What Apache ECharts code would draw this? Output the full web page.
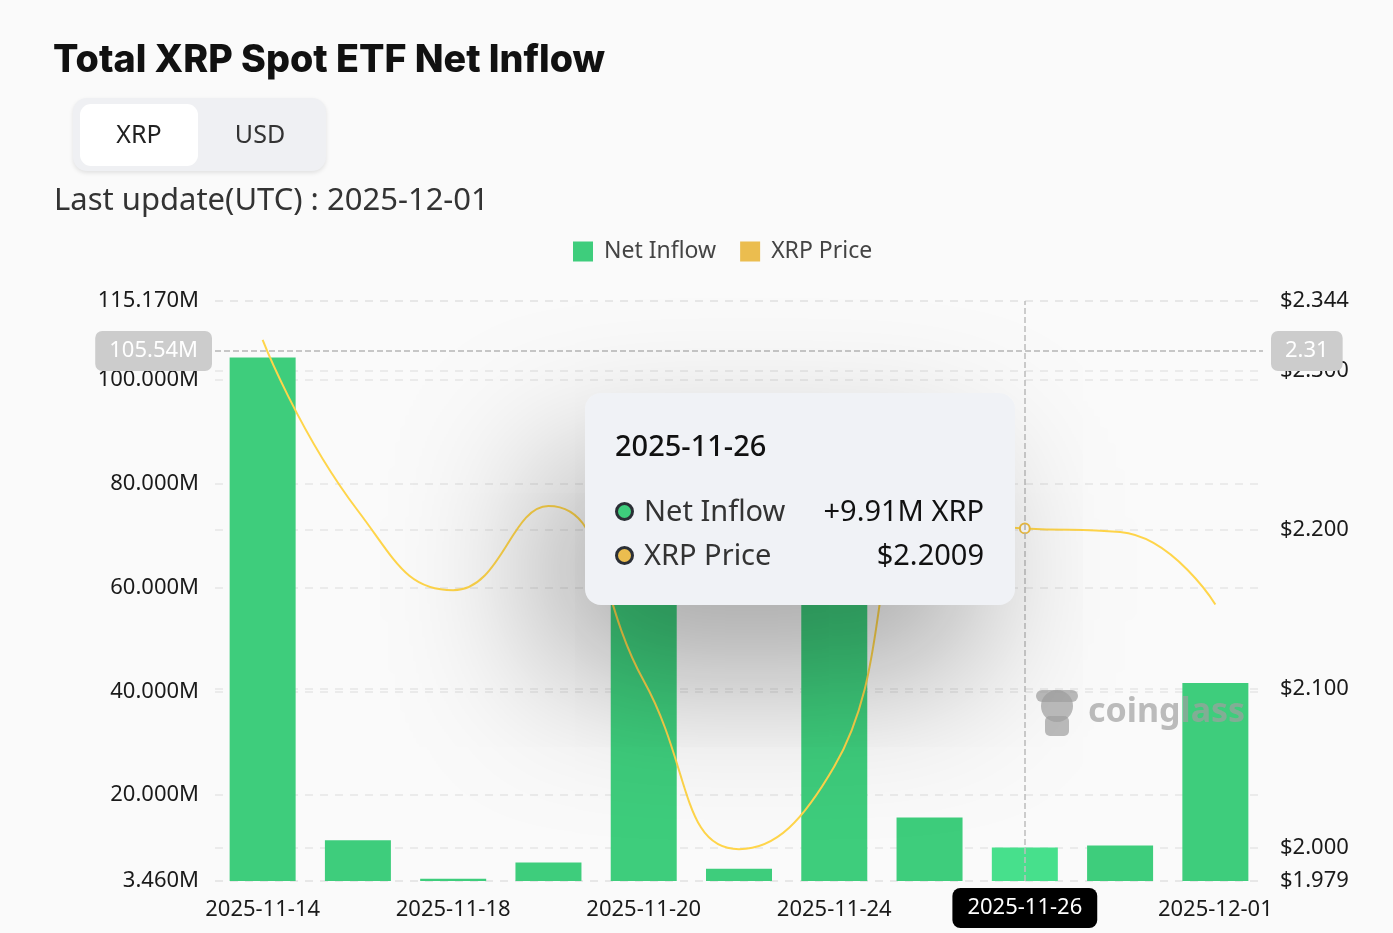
<!DOCTYPE html>
<html>
<head>
<meta charset="utf-8">
<script src="https://cdn.jsdelivr.net/npm/echarts@6/dist/echarts.min.js"></script>
<style>
html,body{margin:0;padding:0;background:#fafafa;}
#chart{width:1393px;height:933px;}
</style>
</head>
<body>
<div id="chart"></div>
<script>
// ---- data ----
const categories = ['2025-11-14','2025-11-17','2025-11-18','2025-11-19','2025-11-20','2025-11-21','2025-11-24','2025-11-25','2025-11-26','2025-11-28','2025-12-01'];
const netInflowM = [104.3, 11.3, 3.9, 7.0, 57.6, 5.8, 80.2, 15.7, 9.91, 10.3, 41.6];
const xrpPrice = [2.3195, 2.212, 2.162, 2.215, 2.105, 1.999, 2.051, 2.205, 2.2009, 2.1986, 2.153];
const leftMin = 3.46, leftMax = 115.17;
const rightMin = 1.979, rightMax = 2.344;
const hoverIndex = 8;

const GREEN = '#3ecd7c', GREEN_HL = '#47e08c', YELLOW = '#f3c244', LEG_YELLOW = '#ebbd4f';
const FONT = 'Noto Sans';

const chart = echarts.init(document.getElementById('chart'), null, {renderer:'canvas'});

const barData = netInflowM.map((v,i)=> i===hoverIndex ? {value:v, itemStyle:{color:GREEN_HL}} : v);

function tipHtml(i){
  const dot = c => `<span style="display:inline-block;width:13px;height:13px;border-radius:50%;border:3.5px solid #2b2f36;background:${c};margin-right:10px;vertical-align:middle;position:relative;top:-2px"></span>`;
  const v = netInflowM[i];
  return `<div style="font-family:${FONT};">
  <div style="font-size:29px;color:#111;font-weight:500;line-height:36px;margin-bottom:25px">${categories[i]}</div>
  <div style="display:flex;justify-content:space-between;font-size:29px;line-height:44px;color:#333"><span>${dot(GREEN)}Net Inflow</span><span style="color:#111">+${v.toFixed(2)}M XRP</span></div>
  <div style="display:flex;justify-content:space-between;font-size:29px;line-height:44px;color:#333"><span>${dot(LEG_YELLOW)}XRP Price</span><span style="color:#111">$${xrpPrice[i].toFixed(4)}</span></div>
  </div>`;
}

const option = {
  animation: false,
  backgroundColor: '#fafafa',
  textStyle: {fontFamily: FONT},
  title: {
    text: 'Total XRP Spot ETF Net Inflow',
    left: 48, top: 37,
    textStyle: {fontFamily: 'Inter', fontSize: 37.7, fontWeight: 800, color: '#111'}
  },
  graphic: [
    {type:'rect', shape:{x:73,y:98,width:253,height:73,r:14}, style:{fill:'#eff0f3', shadowBlur:4, shadowOffsetY:2, shadowColor:'rgba(0,0,0,0.10)'}},
    {type:'rect', shape:{x:80,y:104,width:118,height:62,r:11}, style:{fill:'#ffffff'}},
    {type:'text', x:139, y:136, style:{text:'XRP', fontFamily:FONT, fontSize:25, fill:'#222', align:'center', verticalAlign:'middle'}},
    {type:'text', x:260, y:136, style:{text:'USD', fontFamily:FONT, fontSize:25, fill:'#333', align:'center', verticalAlign:'middle'}},
    {type:'text', x:54, y:201, style:{text:'Last update(UTC) : 2025-12-01', fontFamily:FONT, fontSize:31, fill:'#333', verticalAlign:'middle'}},
    // watermark
    {type:'group', z:100, children:[
      {type:'circle', z:100, shape:{cx:1057,cy:706,r:16}, style:{fill:'rgba(160,160,160,0.7)'}},
      {type:'rect', z:100, shape:{x:1036,y:690,width:42,height:12,r:6}, style:{fill:'rgba(160,160,160,0.7)'}},
      {type:'rect', z:100, shape:{x:1045,y:716,width:24,height:20,r:5}, style:{fill:'rgba(160,160,160,0.7)'}},
      {type:'text', z:100, x:1088, y:712, style:{text:'coinglass', fontFamily:FONT, fontSize:34, fontWeight:700, fill:'rgba(160,160,160,0.7)', verticalAlign:'middle'}}
    ]}
  ],
  legend: {
    left: 568, top: 235,
    itemWidth: 20, itemHeight: 20, itemGap: 24,
    icon: 'rect',
    textStyle: {fontSize: 23, color: '#444', fontFamily: FONT, padding:[0,0,0,6]},
    data: [{name:'Net Inflow', itemStyle:{color:GREEN}}, {name:'XRP Price', itemStyle:{color:LEG_YELLOW}}]
  },
  grid: {left: 215, right: 130, top: 301, bottom: 52, containLabel: false},
  tooltip: {
    trigger: 'axis',
    alwaysShowContent: true,
    triggerOn: 'none',
    position: function(){ return [585, 393]; },
    backgroundColor: '#f0f2f6',
    borderWidth: 0,
    padding: [34, 31, 29, 30],
    extraCssText: 'width:430px;box-sizing:border-box;border-radius:16px;box-shadow:-40px 70px 150px rgba(0,0,0,0.34);',
    formatter: function(params){ return tipHtml(params[0].dataIndex); },
    axisPointer: {
      type: 'cross',
      lineStyle: {type:'dashed', color:'#bdbdbd', width:1.5},
      crossStyle: {type:'dashed', color:'#c4c4c4', width:1.5}
    }
  },
  xAxis: {
    type: 'category',
    data: categories,
    axisLine: {show:false},
    axisTick: {show:false},
    axisLabel: {interval: 1, fontSize: 22, color: '#1a1a1a', margin: 18, fontFamily: FONT},
    axisPointer: {
      label: {backgroundColor:'#000', color:'#fff', fontSize:22, padding:[9,15,9,15], borderRadius:8, margin:7, fontFamily:FONT}
    }
  },
  yAxis: [
    {
      type: 'value', min: leftMin, max: leftMax, splitNumber: 5,
      axisLine:{show:false}, axisTick:{show:false},
      axisLabel: {formatter: v => v.toFixed(3) + 'M', fontSize: 22, color:'#1a1a1a', margin: 16, fontFamily: FONT},
      splitLine: {lineStyle:{type:[8,7], color:'#e6e6e6', width:1.5}},
      axisPointer: {label:{formatter: p => p.value.toFixed(2) + 'M', backgroundColor:'#cccccc', color:'#fff', fontSize:22, padding:[9,14,9,14], borderRadius:7, fontFamily:FONT}}
    },
    {
      type: 'value', min: rightMin, max: rightMax, splitNumber: 5,
      axisLine:{show:false}, axisTick:{show:false},
      axisLabel: {formatter: v => '$' + v.toFixed(3), fontSize: 22, color:'#1a1a1a', margin: 17, fontFamily: FONT},
      splitLine: {lineStyle:{type:[8,7], color:'#e6e6e6', width:1.5}},
      axisPointer: {label:{formatter: p => p.value.toFixed(2), backgroundColor:'#cccccc', color:'#fff', fontSize:22, padding:[9,14,9,14], borderRadius:7, margin:8, fontFamily:FONT}}
    }
  ],
  series: [
    {
      name: 'Net Inflow', type: 'bar', yAxisIndex: 0,
      barWidth: 66,
      data: barData,
      itemStyle: {color: GREEN},
      emphasis: {disabled: true}
    },
    {
      name: 'XRP Price', type: 'line', yAxisIndex: 1,
      data: xrpPrice,
      smooth: 0.5,
      showSymbol: false,
      symbolSize: 9,
      itemStyle: {color: YELLOW, borderColor:'#c9a24a'},
      lineStyle: {color: YELLOW, width: 2},
      z: 3
    }
  ]
};
chart.setOption(option);
chart.dispatchAction({type:'showTip', x: 1025, y: 351});
</script>
</body>
</html>
